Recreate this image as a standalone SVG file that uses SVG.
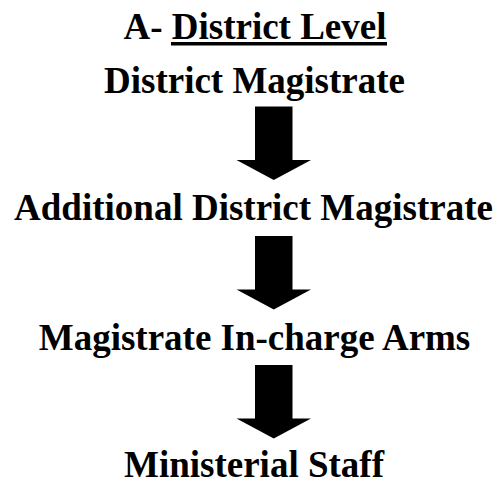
<svg xmlns="http://www.w3.org/2000/svg" xmlns:xlink="http://www.w3.org/1999/xlink" width="498" height="481" viewBox="0 0 498 481">
  <style>
    .t { font-family: "Liberation Serif", "Times New Roman", serif; font-weight: bold; font-size: 37px; fill: #000; text-anchor: middle; }
    .arrow { fill: #000; stroke: none; }
  </style>
  <defs>
    <polygon id="downArrow" class="arrow" points="255,0 292.5,0 292.5,53.5 311,53.5 273.75,73.5 236.5,53.5 255,53.5"/>
  </defs>
  <rect width="498" height="481" fill="#fff"/>
  <g id="title">
    <text class="t" x="255" y="39">A- District Level</text>
    <rect x="171" y="42" width="216" height="3.5" fill="#000"/>
  </g>
  <g id="node-dm">
    <text class="t" x="254.5" y="92.5">District Magistrate</text>
  </g>
  <g id="node-adm">
    <text class="t" x="253.5" y="220">Additional District Magistrate</text>
  </g>
  <g id="node-mica">
    <text class="t" x="254.5" y="349.5">Magistrate In-charge Arms</text>
  </g>
  <g id="node-staff">
    <text class="t" x="254" y="477">Ministerial Staff</text>
  </g>
  <g id="connectors">
    <use xlink:href="#downArrow" y="106.5"/>
    <use xlink:href="#downArrow" y="236"/>
    <use xlink:href="#downArrow" y="365"/>
  </g>
</svg>
